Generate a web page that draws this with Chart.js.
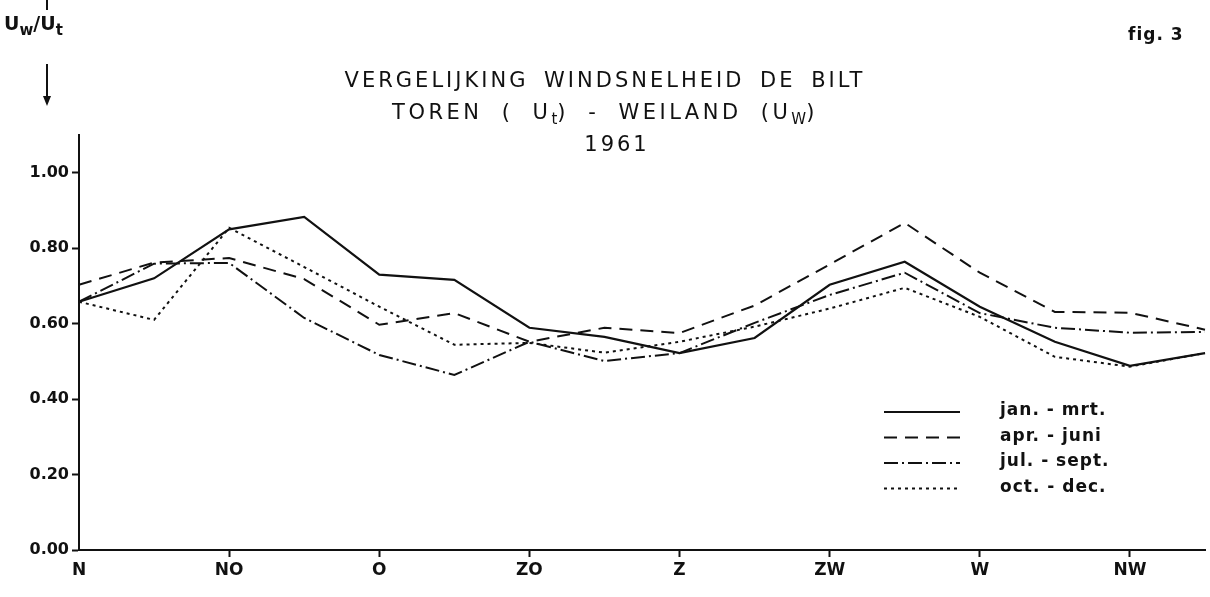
<!DOCTYPE html>
<html>
<head>
<meta charset="utf-8">
<script src="https://cdn.jsdelivr.net/npm/chart.js@4/dist/chart.umd.min.js"></script>
<style>
  body { margin: 0; background: #fff; }
  #wrap { position: relative; width: 1210px; height: 597px; font-family: "DejaVu Sans", sans-serif; color: #111; }
  canvas { position: absolute; left: 0; top: 0; }
  .txt { position: absolute; white-space: nowrap; letter-spacing: 2px; }
  .title { left: 0; width: 1210px; text-align: center; font-size: 21px; letter-spacing: 3px; }
  sub { font-size: 15px; vertical-align: -5px; letter-spacing: 0; }
  #ylab { left: 4px; top: 12px; font-size: 19px; font-weight: bold; letter-spacing: 0; }
  #vline { position: absolute; left: 46px; top: 0; width: 2px; height: 10px; background: #111; }
  #arrow { position: absolute; left: 46px; top: 64px; width: 2px; height: 34px; background: #111; }
  #arrowHead { position: absolute; left: 43px; top: 96px; width: 0; height: 0;
    border-left: 4px solid transparent; border-right: 4px solid transparent; border-top: 10px solid #111; }
</style>
</head>
<body>
<div id="wrap">
  <canvas id="windChart" width="1210" height="597"></canvas>
  <div id="vline"></div>
  <div class="txt" id="ylab">U<sub>w</sub>/U<sub>t</sub></div>
  <div id="arrow"></div>
  <div id="arrowHead"></div>
  <div class="txt" style="left:1128px; top:24px; font-size:17px; font-weight:bold; letter-spacing:1px;">fig. 3</div>
  <div class="txt title" style="top:68px; word-spacing:6px;">VERGELIJKING WINDSNELHEID DE BILT</div>
  <div class="txt title" style="top:100px; word-spacing:9px; letter-spacing:3.5px;">TOREN ( U<sub>t</sub>) - WEILAND (U<sub>W</sub>)</div>
  <div class="txt title" style="top:132px; padding-left:12px;">1961</div>
</div>
<script>
// windrichtingen met tussenpunten (laatste punt ligt tussen NW en N)
const directions = ["N", "", "NO", "", "O", "", "ZO", "", "Z", "", "ZW", "", "W", "", "NW", ""];
const yTicks = [0, 0.2, 0.4, 0.6, 0.8, 1.0];

const seriesNames = ["jan. - mrt.", "apr. - juni", "jul. - sept.", "oct. - dec."];
const janMrt = [0.658, 0.72, 0.85, 0.883, 0.73, 0.716, 0.589, 0.565, 0.522, 0.562, 0.703, 0.764, 0.645, 0.552, 0.488, 0.522];
const aprJuni = [0.703, 0.762, 0.774, 0.718, 0.597, 0.628, 0.552, 0.589, 0.575, 0.648, 0.757, 0.867, 0.735, 0.631, 0.629, 0.584];
const julSept = [0.658, 0.759, 0.761, 0.615, 0.517, 0.464, 0.552, 0.501, 0.522, 0.602, 0.676, 0.735, 0.628, 0.589, 0.576, 0.578];
const octDec = [0.658, 0.61, 0.854, 0.75, 0.645, 0.544, 0.549, 0.523, 0.552, 0.592, 0.64, 0.695, 0.618, 0.512, 0.486, 0.522];

const ink = "#111";
const dashes = [[], [13, 8], [14, 4, 2, 4], [3, 4]];

function makeSet(name, values, i) {
  return {
    label: name,
    data: values,
    borderColor: ink,
    borderWidth: i === 0 ? 2.2 : 2,
    borderDash: dashes[i],
    pointRadius: 0,
    tension: 0,
    fill: false,
  };
}

// legenda rechtsonder, zoals in de figuur
const legendPlugin = {
  id: "ownLegend",
  afterDatasetsDraw(chart) {
    const ctx = chart.ctx;
    ctx.save();
    chart.data.datasets.forEach((ds, i) => {
      const y = 412 + i * 25.5;
      ctx.strokeStyle = ink;
      ctx.lineWidth = 2;
      ctx.setLineDash(ds.borderDash);
      ctx.beginPath();
      ctx.moveTo(884, y);
      ctx.lineTo(960, y);
      ctx.stroke();
      ctx.setLineDash([]);
      ctx.fillStyle = ink;
      ctx.font = "bold 17px 'DejaVu Sans'";
      ctx.letterSpacing = "1px";
      ctx.textBaseline = "middle";
      ctx.fillText(ds.label, 1000, y - 1);
    });
    ctx.restore();
  },
};

const ctx = document.getElementById("windChart").getContext("2d");
new Chart(ctx, {
  type: "line",
  data: {
    labels: directions,
    datasets: [
      makeSet(seriesNames[0], janMrt, 0),
      makeSet(seriesNames[1], aprJuni, 1),
      makeSet(seriesNames[2], julSept, 2),
      makeSet(seriesNames[3], octDec, 3),
    ],
  },
  options: {
    responsive: false,
    animation: false,
    layout: { padding: { top: 135, right: 5, left: 0, bottom: 0 } },
    plugins: { legend: { display: false }, tooltip: { enabled: false } },
    scales: {
      x: {
        offset: false,
        border: { color: ink, width: 2 },
        grid: {
          drawOnChartArea: false,
          tickLength: 7,
          tickWidth: 2,
          tickColor: (c) => (c.index > 0 && directions[c.index] ? ink : "rgba(0,0,0,0)"),
        },
        ticks: {
          autoSkip: false,
          maxRotation: 0,
          color: ink,
          padding: 3,
          font: { family: "DejaVu Sans", size: 17, weight: "bold" },
        },
        afterFit: (s) => { s.height = 47; },
      },
      y: {
        min: 0,
        max: 1.1,
        border: { color: ink, width: 2 },
        grid: { drawOnChartArea: false, tickLength: 7, tickWidth: 2, tickColor: ink },
        afterBuildTicks: (s) => { s.ticks = yTicks.map((v) => ({ value: v })); },
        ticks: {
          color: ink,
          padding: 3,
          font: { family: "DejaVu Sans", size: 16, weight: "bold" },
          callback: (v) => Number(v).toFixed(2),
        },
        afterFit: (s) => { s.width = 79; },
      },
    },
  },
  plugins: [legendPlugin],
});
</script>
</body>
</html>
